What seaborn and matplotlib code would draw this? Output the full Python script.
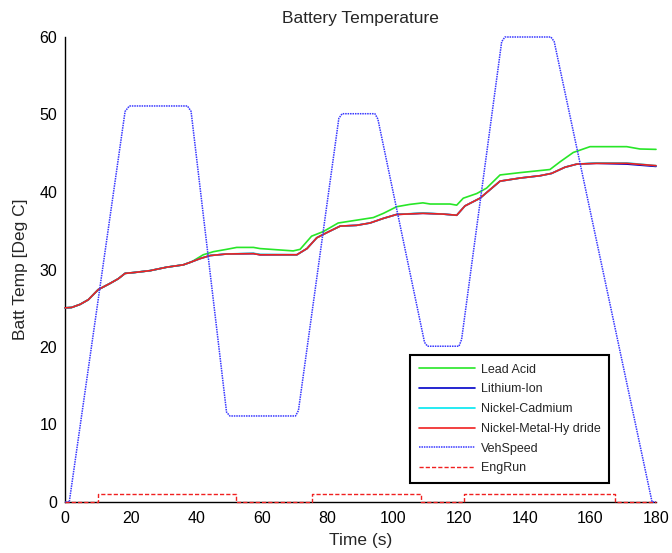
import matplotlib
matplotlib.use("Agg")
import matplotlib.pyplot as plt
import seaborn as sns
import pandas as pd

# ---------------- data ----------------
t_red = [0, 2, 4.6, 7.1, 10.1, 13.7, 16.2, 18.3, 20.8, 25.9, 31, 36, 38, 41.1, 44.2, 49.2, 57.4,
         59.4, 70.6, 73.7, 76.7, 79.7, 83.8, 88.8, 92.9, 97, 101, 109, 115.2, 119.3, 121.8,
         126.4, 132.5, 138.6, 144.7, 148.2, 152.3, 155.9, 161.9, 171.1, 180]
nimh = [25.05, 25.1, 25.5, 26.1, 27.4, 28.2, 28.8, 29.5, 29.6, 29.85, 30.3, 30.6, 30.9, 31.4, 31.8,
        32.0, 32.05, 31.9, 31.9, 32.7, 34.1, 34.75, 35.6, 35.7, 36.0, 36.6, 37.1, 37.25, 37.15,
        37.0, 38.2, 39.2, 41.4, 41.8, 42.1, 42.4, 43.2, 43.6, 43.7, 43.7, 43.4]
lithium = [25.05, 25.1, 25.5, 26.1, 27.4, 28.2, 28.8, 29.5, 29.6, 29.85, 30.3, 30.6, 30.9, 31.4, 31.8,
           32.0, 32.05, 31.9, 31.9, 32.7, 34.1, 34.75, 35.6, 35.7, 36.0, 36.6, 37.1, 37.25, 37.15,
           37.0, 38.2, 39.2, 41.4, 41.8, 42.1, 42.4, 43.2, 43.6, 43.7, 43.6, 43.3]
nicad = [25.05, 25.1, 25.5, 26.1, 27.4, 28.2, 28.8, 29.5, 29.6, 29.85, 30.3, 30.6, 30.9, 31.4, 31.8,
         32.0, 32.1, 31.95, 31.9, 32.7, 34.1, 34.75, 35.6, 35.7, 36.0, 36.6, 37.1, 37.3, 37.15,
         37.0, 38.2, 39.2, 41.4, 41.8, 42.1, 42.4, 43.2, 43.6, 43.75, 43.75, 43.4]

t_green = [0, 2, 4.6, 7.1, 10.1, 13.7, 16.2, 18.3, 20.8, 25.9, 31, 36, 38.6, 42.1, 45.2, 49.2,
           52.3, 57.4, 59.4, 69.5, 71.6, 75.1, 78.7, 83.2, 87.8, 93.9, 97, 101, 105, 109, 111.2,
           117.3, 119.3, 121.3, 125.4, 128.4, 132.5, 138.6, 147.7, 150.8, 154.8, 159.9, 171.1,
           175.1, 180]
lead_acid = [25.05, 25.1, 25.5, 26.1, 27.4, 28.2, 28.8, 29.5, 29.6, 29.85, 30.3, 30.6, 31.0, 31.9,
             32.3, 32.6, 32.85, 32.85, 32.7, 32.4, 32.6, 34.3, 34.9, 36.0, 36.3, 36.7, 37.25, 38.1,
             38.4, 38.6, 38.45, 38.45, 38.3, 39.2, 39.8, 40.5, 42.2, 42.5, 42.9, 43.9, 45.1, 45.85,
             45.85, 45.55, 45.5]

t_speed = [0, 1.3, 18.3, 19.6, 37.3, 38.4, 49.2, 50.2, 70.2, 71.1, 83.4, 84.4, 94.4, 95.3,
           109.5, 110.4, 120.0, 120.8, 133.0, 134.0, 148.0, 149.0, 178.8, 180]
veh_speed = [0, 0, 50.4, 51.1, 51.1, 50.4, 11.6, 11.1, 11.1, 11.8, 49.5, 50.1, 50.1, 49.4,
             20.6, 20.1, 20.1, 21.0, 59.4, 60.0, 60.0, 59.4, 0, 0]

t_eng = [0, 10.2, 10.2, 52.0, 52.0, 75.1, 75.1, 108.5, 108.5, 121.5, 121.5, 167.4, 167.4, 180]
eng_run = [0, 0, 1, 1, 0, 0, 1, 1, 0, 0, 1, 1, 0, 0]

x_ticks = [0, 20, 40, 60, 80, 100, 120, 140, 160, 180]
y_ticks = [0, 10, 20, 30, 40, 50, 60]

# ---------------- plot ----------------
sns.set_style("white")
plt.rcParams['font.family'] = ['Liberation Sans', 'DejaVu Sans']

fig = plt.figure(figsize=(6.72, 5.53), dpi=100)
ax = fig.add_axes([65 / 672, 1 - 502 / 553, 591 / 672, 465 / 553])

series = [
    (t_green, lead_acid, "Lead Acid", "#28e628", "-", 1.2),
    (t_red, lithium, "Lithium-Ion", "#0000c8", "-", 1.2),
    (t_red, nicad, "Nickel-Cadmium", "#00e8f0", "-", 1.2),
    (t_red, nimh, "Nickel-Metal-Hy dride", "#f02020", "-", 1.2),
    (t_speed, veh_speed, "VehSpeed", "#3838ff", (0, (1, 0.6)), 1.1),
    (t_eng, eng_run, "EngRun", "#f02020", (0, (3, 1.5)), 1.0),
]
for tx, yv, lab, col, ls, lw in series:
    df = pd.DataFrame({"t": tx, "v": yv})
    sns.lineplot(data=df, x="t", y="v", ax=ax, label=lab, color=col,
                 linestyle=ls, linewidth=lw, sort=False, estimator=None,
                 clip_on=False, zorder=3)

ax.set_xlim(0, 180)
ax.set_ylim(0, 60)
ax.set_xticks(x_ticks)
ax.set_yticks(y_ticks)
ax.tick_params(direction="in", length=4, width=1, labelsize=11.5, colors="black")
ax.tick_params(axis="x", pad=6.5)
ax.tick_params(axis="y", pad=5.5)
for s in ["top", "right"]:
    ax.spines[s].set_visible(False)
for s in ["left", "bottom"]:
    ax.spines[s].set_color("black")
    ax.spines[s].set_linewidth(1)

ax.set_title("Battery Temperature", fontsize=12.5, pad=10)
ax.set_xlabel("Time (s)", fontsize=12.5, labelpad=5)
ax.set_ylabel("Batt Temp [Deg C]", fontsize=12.5, labelpad=8)

leg = ax.legend(loc="upper left", bbox_to_anchor=((410 - 65) / 591, (502 - 355) / 465),
                fontsize=9, frameon=True, fancybox=False, framealpha=1,
                edgecolor="black", borderpad=0.7, labelspacing=0.62, handlelength=4.5,
                handletextpad=0.45, borderaxespad=0)
leg.get_frame().set_linewidth(1.5)
leg.set_zorder(10)

fig.savefig("out.png", dpi=100)
